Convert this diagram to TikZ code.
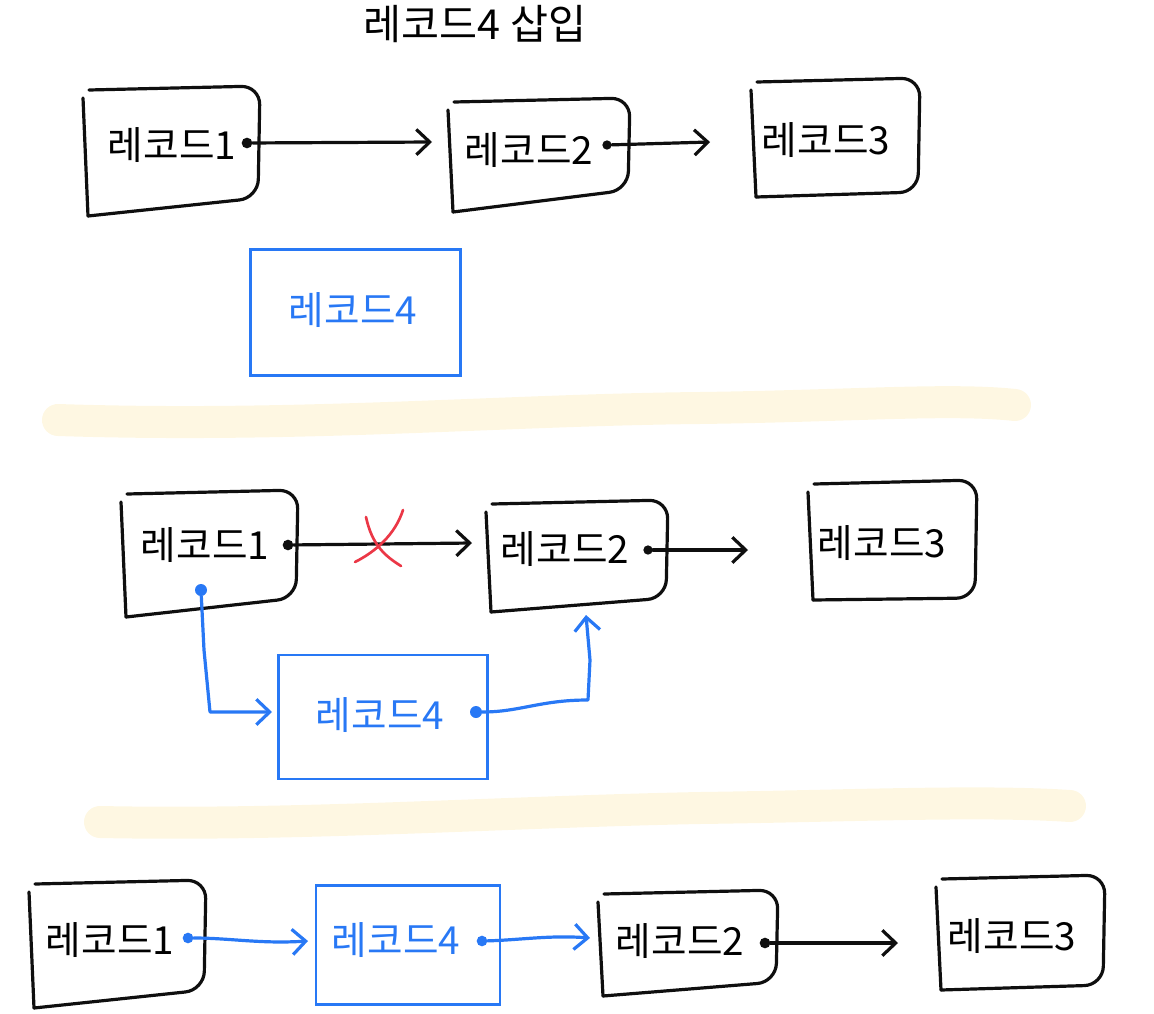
\documentclass[tikz,border=0pt]{standalone}
\usepackage{fontspec}
\newfontfamily\kr{Noto Sans CJK KR}
\usetikzlibrary{arrows.meta}
\definecolor{pen}{RGB}{15,15,15}
\definecolor{bpen}{RGB}{40,120,245}
\definecolor{rpen}{RGB}{235,55,70}
\definecolor{hl}{RGB}{254,247,226}
\newcommand\sketchrec[6][pen]{% colour, xl, yt, xr, ybr, ybl
  \draw[sk,#1] ({#2-2},{#3+10}) -- ({#2+3},{#6});
  \draw[sk,#1,rounded corners=14] ({#2+4},{#3+2}) -- ({#4},{#3-2}) -- ({#4-2},{#5}) -- ({#2+3},{#6});
}
\begin{document}
\begin{tikzpicture}[x=0.75pt,y=-0.75pt,
  sk/.style={line width=2.4pt,line cap=round,line join=round},
  lbl/.style={font=\kr\fontsize{29}{32}\selectfont,inner sep=0pt},
  blbl/.style={lbl,text=bpen},
  brec/.style={draw=bpen,line width=2.2pt},
  arr/.style={sk,pen,-{Straight Barb[length=10pt,width=19pt,line width=2.4pt]}},
  barr/.style={sk,bpen,-{Straight Barb[length=10pt,width=19pt,line width=2.4pt]}},
  dot/.style={circle,fill=pen,inner sep=0pt,minimum size=8pt},
  bdot/.style={circle,fill=bpen,inner sep=0pt,minimum size=9pt},
  hlstroke/.style={line width=24pt,hl,line cap=round}]
\useasboundingbox (0,0) rectangle (1154,1014);

% highlighter bands
\draw[hlstroke] (58,420) .. controls (300,428) and (500,410) .. (700,408) .. controls (850,406) and (950,398) .. (1015,405);
\draw[hlstroke] (100,822) .. controls (300,826) and (500,812) .. (700,808) .. controls (850,806) and (980,800) .. (1070,806);

% title
\node[lbl,font=\kr\fontsize{31}{34}\selectfont] (title) at (475,24) {레코드4 삽입};

% ===== row 1 =====
\sketchrec{85}{88}{260}{198}{216}
\node[lbl] (a1) at (172,145) {레코드1};
\sketchrec{450}{100}{630}{190}{212}
\node[lbl] (a2) at (529,150) {레코드2};
\sketchrec{753}{80}{920}{192}{197}
\node[lbl] (a3) at (826,140) {레코드3};
\node[brec,minimum width=158pt,minimum height=94pt] (a4box) at (355.5,312.5) {};
\node[blbl] (a4) at (353,310) {레코드4};

\node[dot] (a1d) at (247,143) {};
\coordinate (a2in) at (432,142);
\draw[arr] (a1d) -- (a2in);
\node[dot,minimum size=7pt] (a2d) at (607,145) {};
\coordinate (a3in) at (710,142);
\draw[arr] (a2d) -- (a3in);

% ===== row 2 =====
\sketchrec{123}{492}{298}{598}{617}
\node[lbl] (b1) at (205,545) {레코드1};
\sketchrec{488}{502}{668}{598}{612}
\node[lbl] (b2) at (565,549) {레코드2};
\sketchrec{810}{482}{977}{598}{600}
\node[lbl] (b3) at (882,543) {레코드3};
\node[brec,minimum width=157pt,minimum height=93pt] (b4box) at (383,717) {};
\node[blbl] (b4) at (380,715) {레코드4};

\node[dot] (b1d) at (288,545) {};
\coordinate (b2in) at (472,543);
\draw[arr] (b1d) -- (b2in);
\draw[sk,rpen,line width=2pt] (366,517) .. controls (372,545) and (385,556) .. (401,566);
\draw[sk,rpen,line width=2pt] (403,510) .. controls (395,535) and (375,552) .. (355,562);
\node[dot,minimum size=7pt] (b2d) at (648,550) {};
\coordinate (b3in) at (748,550);
\draw[arr] (b2d) -- (b3in);

\node[bdot] (b1low) at (201,590) {};
\coordinate (b4in) at (272,712);
\draw[barr] (b1low) -- (204,650) -- (210,712) -- (b4in);
\node[bdot] (b4d) at (476,712) {};
\coordinate (b2low) at (586,615);
\draw[barr] (b4d) .. controls (520,712) and (540,700) .. (588,700) -- (590,660) -- (b2low);

% ===== row 3 =====
\sketchrec{31}{882}{206}{990}{1008}
\node[lbl] (c1) at (110,940) {레코드1};
\node[brec,minimum width=138pt,minimum height=89pt] (c4box) at (408,945) {};
\node[blbl] (c4) at (396,940) {레코드4};
\sketchrec{600}{892}{778}{982}{996}
\node[lbl] (c2) at (680,941) {레코드2};
\sketchrec{938}{877}{1105}{985}{990}
\node[lbl] (c3) at (1012,936) {레코드3};

\node[bdot,minimum size=8pt] (c1d) at (188,938) {};
\coordinate (c4in) at (308,941);
\draw[barr] (c1d) .. controls (230,938) and (260,944) .. (c4in);
\node[bdot,minimum size=8pt] (c4d) at (482,941) {};
\coordinate (c2in) at (590,938);
\draw[barr] (c4d) .. controls (520,940) and (550,935) .. (c2in);
\node[dot] (c2d) at (765,943) {};
\coordinate (c3in) at (898,943);
\draw[arr] (c2d) -- (c3in);
\end{tikzpicture}
\end{document}
